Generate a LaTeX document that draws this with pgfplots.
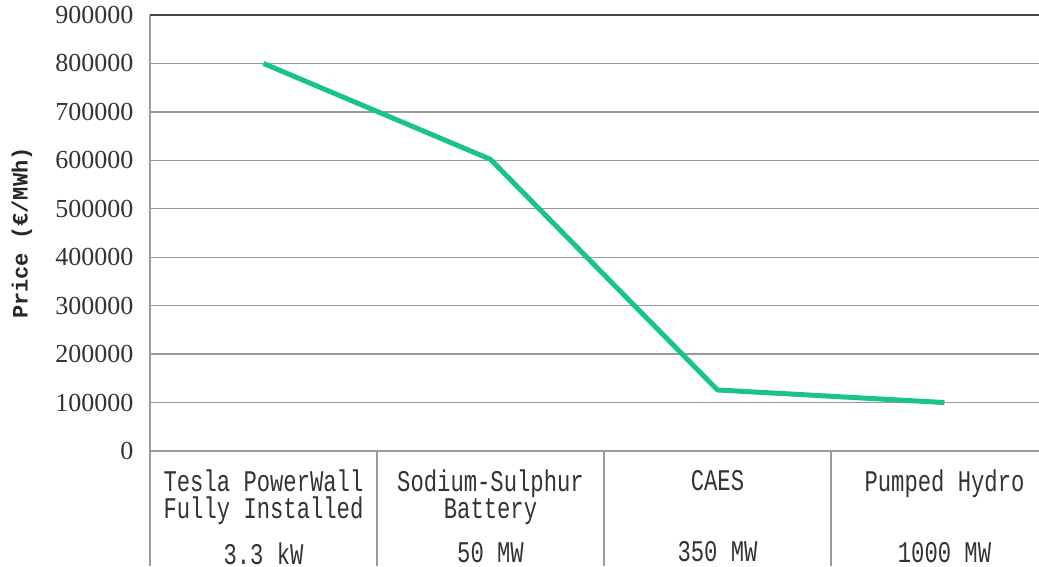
\documentclass[border=0pt]{standalone}
\usepackage{fontspec}
\usepackage{pgfplots}
\pgfplotsset{compat=1.18}
\setmainfont{Liberation Serif}
\newfontfamily\catfont[FakeStretch=0.74]{Liberation Mono}
\newfontfamily\labfont{Liberation Mono}

\definecolor{lineGreen}{RGB}{25,196,135}
\definecolor{gridGray}{RGB}{155,155,155}
\definecolor{topGray}{RGB}{70,70,70}

\begin{document}
\begin{tikzpicture}
\begin{axis}[
    scale only axis,
    width=908pt, height=436pt,
    xmin=-0.5, xmax=3.5,
    ymin=0, ymax=900000,
    clip=false,
    axis line style={draw=none},
    ytick={0,100000,...,900000},
    ymajorgrids,
    grid style={gridGray, line width=1.4pt},
    major tick length=0pt,
    scaled y ticks=false,
    /pgf/number format/fixed,
    /pgf/number format/1000 sep={},
    /pgf/number format/assume math mode=true,
    yticklabel style={font=\fontsize{26}{30}\selectfont, text=black!80, xshift=-13pt},
    xtick={0,1,2,3},
    xticklabels={
        {Tesla PowerWall\\Fully Installed\\[17pt]3.3 kW},
        {Sodium-Sulphur\\Battery\\[17pt]50 MW},
        {CAES\\\mbox{}\\[17pt]350 MW},
        {Pumped Hydro\\\mbox{}\\[17pt]1000 MW}},
    xticklabel style={font=\catfont\fontsize{30}{27}\selectfont, text=black!80,
        align=center, anchor=north, inner sep=0pt, yshift=-19pt},
    ylabel={\bfseries Price (€/MWh)},
    every axis y label/.style={at={(rel axis cs:0,0.5)}, rotate=90, anchor=center,
        yshift=128pt, font=\labfont\fontsize{22}{26}\selectfont, text=black!85},
]
\addplot[lineGreen, line width=5pt, line join=round] coordinates {
    (0,800000) (1,602000) (2,126000) (3,100000)};
\coordinate (o) at (rel axis cs:0,0);
\draw[gridGray, line width=1.4pt] (rel axis cs:0,1) -- ([yshift=-115pt]rel axis cs:0,0);
\draw[gridGray, line width=1.4pt] (axis cs:0.5,0) -- ([yshift=-115pt]axis cs:0.5,0);
\draw[gridGray, line width=1.4pt] (axis cs:1.5,0) -- ([yshift=-115pt]axis cs:1.5,0);
\draw[gridGray, line width=1.4pt] (axis cs:2.5,0) -- ([yshift=-115pt]axis cs:2.5,0);
\draw[topGray, line width=1.6pt] (rel axis cs:0,1) -- (rel axis cs:1,1);
\end{axis}
\pgfresetboundingbox
\path[use as bounding box] (o) ++(-150pt,-115pt) rectangle ++(1039pt,566pt);
\end{tikzpicture}
\end{document}
